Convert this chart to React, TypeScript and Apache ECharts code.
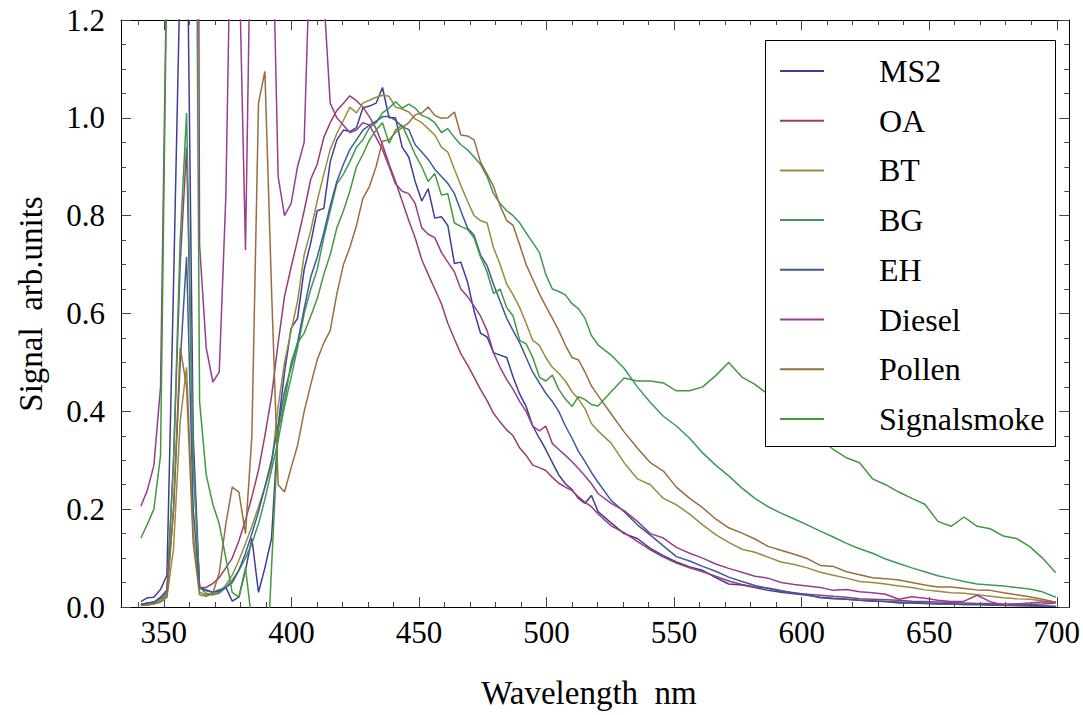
import React, { useEffect, useRef } from "react";
import * as echarts from "echarts";

const wavelengths = [
  341.0, 343.6, 346.1, 348.7, 351.2, 353.8, 356.4, 358.9, 361.5, 364.0,
  366.6, 369.2, 371.7, 374.3, 376.8, 379.4, 382.0, 384.5, 387.1, 389.6,
  392.2, 394.8, 397.3, 399.9, 402.4, 405.0, 407.6, 410.1, 412.7, 415.2,
  417.8, 420.4, 422.9, 425.5, 428.0, 430.6, 433.2, 435.7, 438.3, 440.8,
  443.4, 446.0, 448.5, 451.1, 453.6, 456.2, 458.8, 461.3, 463.9, 466.4,
  469.0, 471.6, 474.1, 476.7, 479.2, 481.8, 484.4, 486.9, 489.5, 492.0,
  494.6, 497.2, 499.7, 502.3, 504.8, 507.4, 510.0, 512.5, 515.1, 517.6,
  520.2, 525.3, 530.4, 535.6, 540.7, 545.8, 550.9, 556.1, 561.2, 566.3,
  571.4, 576.6, 581.7, 586.8, 591.9, 597.1, 602.2, 607.3, 612.4, 617.6,
  622.7, 627.8, 632.9, 638.1, 643.2, 648.3, 653.4, 658.6, 663.7, 668.8,
  673.9, 679.1, 684.2, 689.3, 694.4, 699.6,
];

const ms2 = [
  0.011, 0.019, 0.02, 0.036, 0.065, 0.66, 1.3, 1.5, 0.35, 0.04,
  0.035, 0.03, 0.035, 0.04, 0.012, 0.02, 0.075, 0.14, 0.03, 0.08,
  0.14, 0.37, 0.48, 0.57, 0.59, 0.69, 0.745, 0.81, 0.815, 0.91,
  0.955, 0.975, 0.972, 0.98, 1.02, 1.024, 1.03, 1.062, 1.0, 1.0,
  0.94, 0.92, 0.87, 0.83, 0.855, 0.795, 0.798, 0.78, 0.702, 0.705,
  0.665, 0.605, 0.56, 0.552, 0.52, 0.515, 0.51, 0.47, 0.435, 0.41,
  0.37, 0.345, 0.322, 0.295, 0.27, 0.252, 0.24, 0.222, 0.212, 0.228,
  0.195, 0.172, 0.15, 0.14, 0.12, 0.105, 0.092, 0.082, 0.075, 0.06,
  0.047, 0.045, 0.04, 0.034, 0.03, 0.027, 0.024, 0.02, 0.018, 0.016,
  0.014, 0.012, 0.011, 0.008, 0.008, 0.007, 0.006, 0.006, 0.005, 0.005,
  0.004, 0.004, 0.003, 0.003, 0.002, 0.001,
];

const oa = [
  0.005, 0.008, 0.01, 0.018, 0.03, 0.3, 0.7, 0.94, 0.3, 0.04,
  0.04, 0.048, 0.06, 0.08, 0.1, 0.135, 0.178, 0.225, 0.28, 0.35,
  0.43, 0.54, 0.635, 0.695, 0.75, 0.81, 0.875, 0.905, 0.96, 0.99,
  1.015, 1.03, 1.045, 1.035, 1.022, 1.002, 0.978, 0.945, 0.905, 0.87,
  0.83, 0.79, 0.755, 0.71, 0.68, 0.65, 0.62, 0.58, 0.548, 0.518,
  0.495, 0.47, 0.445, 0.422, 0.396, 0.378, 0.362, 0.35, 0.325, 0.31,
  0.29, 0.285, 0.279, 0.265, 0.253, 0.245, 0.238, 0.225, 0.214, 0.205,
  0.19, 0.166, 0.152, 0.134, 0.117, 0.102, 0.09, 0.08, 0.072, 0.063,
  0.053, 0.046, 0.041, 0.039, 0.034, 0.028, 0.026, 0.024, 0.022, 0.02,
  0.017, 0.016, 0.015, 0.014, 0.012, 0.011, 0.01, 0.009, 0.008, 0.007,
  0.007, 0.006, 0.006, 0.005, 0.006, 0.008,
];

const bt = [
  0.003, 0.005, 0.007, 0.012, 0.02, 0.12, 0.38, 0.49, 0.15, 0.03,
  0.025, 0.025, 0.03, 0.045, 0.065, 0.095, 0.13, 0.165, 0.205, 0.245,
  0.29, 0.41, 0.5, 0.565, 0.625, 0.72, 0.77, 0.83, 0.885, 0.935,
  0.968, 0.995, 1.022, 1.01, 1.03, 1.036, 1.042, 1.046, 1.044, 1.022,
  1.018, 1.012, 0.998, 0.99, 0.978, 0.965, 0.94, 0.93, 0.895, 0.862,
  0.83, 0.8, 0.79, 0.785, 0.735, 0.7, 0.66, 0.638, 0.612, 0.58,
  0.545, 0.535, 0.51, 0.49, 0.478, 0.462, 0.44, 0.425, 0.405, 0.375,
  0.36, 0.335, 0.295, 0.262, 0.25, 0.222, 0.209, 0.19, 0.168, 0.148,
  0.132, 0.118, 0.112, 0.102, 0.092, 0.087, 0.08, 0.071, 0.065, 0.059,
  0.052, 0.05, 0.047, 0.043, 0.04, 0.035, 0.032, 0.029, 0.028, 0.025,
  0.022, 0.019, 0.017, 0.016, 0.013, 0.01,
];

const bg = [
  0.005, 0.007, 0.009, 0.015, 0.025, 0.3, 0.75, 1.01, 0.3, 0.04,
  0.028, 0.025, 0.028, 0.04, 0.055, 0.075, 0.1, 0.13, 0.17, 0.22,
  0.28, 0.34, 0.41, 0.47, 0.53, 0.6, 0.65, 0.69, 0.755, 0.81,
  0.865, 0.885, 0.91, 0.94, 0.955, 0.98, 0.99, 1.01, 1.02, 1.033,
  1.02, 1.028, 1.02, 1.005, 1.0, 0.99, 0.97, 0.978, 0.96, 0.945,
  0.935, 0.92, 0.905, 0.88, 0.845, 0.825, 0.81, 0.8, 0.785, 0.765,
  0.745, 0.725, 0.68, 0.65, 0.645, 0.638, 0.62, 0.61, 0.59, 0.555,
  0.536, 0.515, 0.488, 0.45, 0.418, 0.39, 0.37, 0.345, 0.315, 0.29,
  0.268, 0.243, 0.222, 0.205, 0.192, 0.18, 0.168, 0.155, 0.143, 0.13,
  0.119, 0.11, 0.098, 0.089, 0.08, 0.072, 0.064, 0.058, 0.052, 0.047,
  0.045, 0.043, 0.04, 0.037, 0.031, 0.02,
];

const eh = [
  0.005, 0.008, 0.01, 0.02, 0.035, 0.2, 0.5, 0.716, 0.2, 0.04,
  0.033, 0.03, 0.032, 0.04, 0.05, 0.075, 0.11, 0.15, 0.195, 0.245,
  0.3, 0.37, 0.44, 0.49, 0.54, 0.61, 0.675, 0.715, 0.765, 0.82,
  0.87, 0.905, 0.935, 0.955, 0.975, 0.985, 0.993, 1.002, 1.003, 0.995,
  0.982, 0.976, 0.945, 0.93, 0.915, 0.895, 0.88, 0.866, 0.845, 0.81,
  0.775, 0.76, 0.72, 0.698, 0.66, 0.625, 0.59, 0.565, 0.54, 0.51,
  0.48, 0.458, 0.437, 0.42, 0.4, 0.37, 0.345, 0.318, 0.297, 0.275,
  0.255, 0.218, 0.195, 0.168, 0.147, 0.125, 0.103, 0.094, 0.083, 0.073,
  0.061, 0.052, 0.044, 0.038, 0.032, 0.029, 0.025, 0.019, 0.017, 0.016,
  0.014, 0.013, 0.011, 0.01, 0.009, 0.008, 0.007, 0.006, 0.005, 0.005,
  0.004, 0.003, 0.003, 0.002, 0.002, 0.001,
];

const diesel = [
  0.206, 0.24, 0.29, 0.45, 1.35, 3.0, 3.0, 3.0, 5.0, 0.74,
  0.53, 0.46, 0.48, 0.84, 1.6, 1.35, 0.73, 1.57, 3.0, 3.0,
  1.5, 0.88, 0.8, 0.825, 0.9, 0.95, 1.4, 3.0, 1.25, 1.03,
  1.0, 0.985, 0.97, 0.975, 0.99, 0.985, 0.96, 0.935, 0.9, 0.865,
  0.85, 0.845, 0.825, 0.775, 0.762, 0.755, 0.725, 0.705, 0.685, 0.65,
  0.635, 0.615, 0.595, 0.565, 0.52, 0.49, 0.465, 0.445, 0.42, 0.4,
  0.37, 0.36, 0.37, 0.334, 0.322, 0.31, 0.297, 0.283, 0.268, 0.252,
  0.232, 0.212, 0.197, 0.175, 0.15, 0.141, 0.122, 0.11, 0.1, 0.088,
  0.079, 0.071, 0.063, 0.059, 0.05, 0.046, 0.043, 0.04, 0.034, 0.036,
  0.031, 0.029, 0.026, 0.016, 0.021, 0.018, 0.014, 0.011, 0.012, 0.024,
  0.011, 0.004, 0.006, 0.008, 0.01, 0.01,
];

const pollen = [
  0.003, 0.004, 0.006, 0.01, 0.02, 0.2, 0.53, 0.45, 0.13, 0.025,
  0.022, 0.028, 0.07, 0.17, 0.245, 0.235, 0.15, 0.35, 1.03, 1.095,
  0.65, 0.25, 0.235, 0.285, 0.33, 0.4, 0.455, 0.505, 0.54, 0.565,
  0.64, 0.7, 0.735, 0.78, 0.835, 0.86, 0.9, 0.952, 0.955, 0.97,
  0.98, 0.99, 1.006, 1.01, 1.022, 1.005, 0.999, 1.0, 1.012, 0.965,
  0.963, 0.955, 0.91, 0.885, 0.86, 0.82, 0.79, 0.78, 0.74, 0.7,
  0.67, 0.64, 0.615, 0.59, 0.565, 0.535, 0.51, 0.505, 0.48, 0.452,
  0.432, 0.395, 0.358, 0.325, 0.295, 0.278, 0.245, 0.222, 0.203, 0.18,
  0.162, 0.151, 0.139, 0.124, 0.116, 0.108, 0.099, 0.085, 0.083, 0.072,
  0.066, 0.06, 0.058, 0.055, 0.05, 0.045, 0.041, 0.041, 0.038, 0.035,
  0.034, 0.029, 0.025, 0.021, 0.016, 0.01,
];

const signalsmoke = [
  0.141, 0.17, 0.2, 0.31, 1.32, 3.0, 3.0, 3.0, 2.5, 0.42,
  0.27, 0.21, 0.17, 0.1, 0.03, 0.02, 0.08, -0.03, -0.25, -0.21,
  0.08, 0.36, 0.42, 0.5, 0.54, 0.56, 0.595, 0.63, 0.68, 0.72,
  0.775, 0.81, 0.85, 0.9, 0.925, 0.955, 0.975, 0.99, 0.948, 0.975,
  0.985, 0.955, 0.925, 0.9, 0.87, 0.886, 0.842, 0.845, 0.785, 0.778,
  0.772, 0.755, 0.716, 0.685, 0.641, 0.65, 0.612, 0.595, 0.545, 0.538,
  0.51, 0.47, 0.462, 0.474, 0.445, 0.425, 0.41, 0.43, 0.424, 0.414,
  0.411, 0.44, 0.468, 0.462, 0.462, 0.458, 0.442, 0.442, 0.45, 0.473,
  0.5, 0.47, 0.455, 0.435, 0.41, 0.385, 0.365, 0.345, 0.322, 0.305,
  0.295, 0.262, 0.25, 0.235, 0.222, 0.21, 0.175, 0.165, 0.184, 0.165,
  0.16, 0.145, 0.14, 0.124, 0.1, 0.07,
];

const seriesNames = ["MS2", "OA", "BT", "BG", "EH", "Diesel", "Pollen", "Signalsmoke"];
const seriesValues = [ms2, oa, bt, bg, eh, diesel, pollen, signalsmoke];
const seriesColors = ["#3F3D99", "#993D71", "#998C3D", "#3D9956", "#3D5A99", "#993D90", "#996D3D", "#43993D"];

const xMajorTicks = [350, 400, 450, 500, 550, 600, 650, 700];
const xMinorTicks = [340, 350, 360, 370, 380, 390, 400, 410, 420, 430, 440, 450, 460, 470, 480, 490, 500,
  510, 520, 530, 540, 550, 560, 570, 580, 590, 600, 610, 620, 630, 640, 650, 660, 670, 680, 690, 700];

const X_MIN = 333.2;
const X_MAX = 704.9;
const FONT = "Liberation Serif";

export default function App() {
  const ref = useRef<HTMLDivElement>(null);

  useEffect(() => {
    if (!ref.current) return;
    const chart = echarts.init(ref.current, null, { renderer: "svg" });

    const tickColor = "#444";
    const baseX = (position: string, custom: number[], len: number, showLine: boolean, showLabel: boolean) => ({
      type: "value",
      position,
      min: X_MIN,
      max: X_MAX,
      axisLine: { show: showLine, onZero: false, lineStyle: { color: "#000", width: 1 } },
      axisTick: { show: true, inside: true, length: len, customValues: custom, lineStyle: { color: tickColor, width: 1 } },
      axisLabel: showLabel
        ? { show: true, customValues: xMajorTicks, color: "#000", fontFamily: FONT, fontSize: 31, margin: 10 }
        : { show: false },
      splitLine: { show: false },
    });

    const baseY = (position: string, showLabel: boolean) => ({
      type: "value",
      position,
      min: 0,
      max: 1.2,
      interval: 0.2,
      axisLine: { show: true, onZero: false, lineStyle: { color: "#000", width: 1 } },
      axisTick: { show: true, inside: true, length: 10, lineStyle: { color: tickColor, width: 1 } },
      minorTick: { show: true, splitNumber: 4, length: 5, lineStyle: { color: tickColor, width: 1 } },
      axisLabel: showLabel
        ? { show: true, color: "#000", fontFamily: FONT, fontSize: 31, margin: 16, formatter: (v: number) => v.toFixed(1) }
        : { show: false },
      splitLine: { show: false },
      minorSplitLine: { show: false },
    });

    const option: any = {
      animation: false,
      backgroundColor: "#ffffff",
      textStyle: { fontFamily: FONT },
      grid: { left: 121, right: 13, top: 20, bottom: 108, containLabel: false },
      xAxis: [
        baseX("bottom", xMajorTicks, 10, true, true),
        baseX("bottom", xMinorTicks, 5, false, false),
        baseX("top", xMajorTicks, 10, true, false),
        baseX("top", xMinorTicks, 5, false, false),
      ],
      yAxis: [baseY("left", true), baseY("right", false)],
      legend: {
        orient: "vertical",
        left: 765,
        top: 40,
        padding: [14, 10, 10, 15],
        itemWidth: 44,
        itemHeight: 2,
        itemGap: 15.7,
        icon: "rect",
        z: 20,
        textStyle: { fontFamily: FONT, fontSize: 32, color: "#000", lineHeight: 34, padding: [0, 0, 0, 50] },
        data: seriesNames,
      },
      graphic: [
        {
          type: "rect",
          z: 10,
          shape: { x: 765.5, y: 40.5, width: 290, height: 406 },
          style: { fill: "#ffffff", stroke: "#000", lineWidth: 1 },
        },
        {
          type: "text",
          x: 589,
          y: 693,
          style: { text: "Wavelength  nm", fontFamily: FONT, fontSize: 33, fill: "#000", align: "center", verticalAlign: "middle" },
        },
        {
          type: "text",
          x: 31,
          y: 304,
          rotation: Math.PI / 2,
          style: { text: "Signal  arb.units", fontFamily: FONT, fontSize: 33, fill: "#000", align: "center", verticalAlign: "middle" },
        },
      ],
      series: seriesNames.map((name, k) => ({
        name,
        type: "line",
        xAxisIndex: 0,
        yAxisIndex: 0,
        data: wavelengths.map((w, i) => [w, seriesValues[k][i]]),
        showSymbol: false,
        symbol: "none",
        clip: true,
        lineStyle: { width: 1.5, color: seriesColors[k] },
        itemStyle: { color: seriesColors[k] },
      })),
    };

    chart.setOption(option);
    return () => chart.dispose();
  }, []);

  return <div ref={ref} style={{ position: "absolute", left: 0, top: 0, width: 1083, height: 715 }} />;
}
